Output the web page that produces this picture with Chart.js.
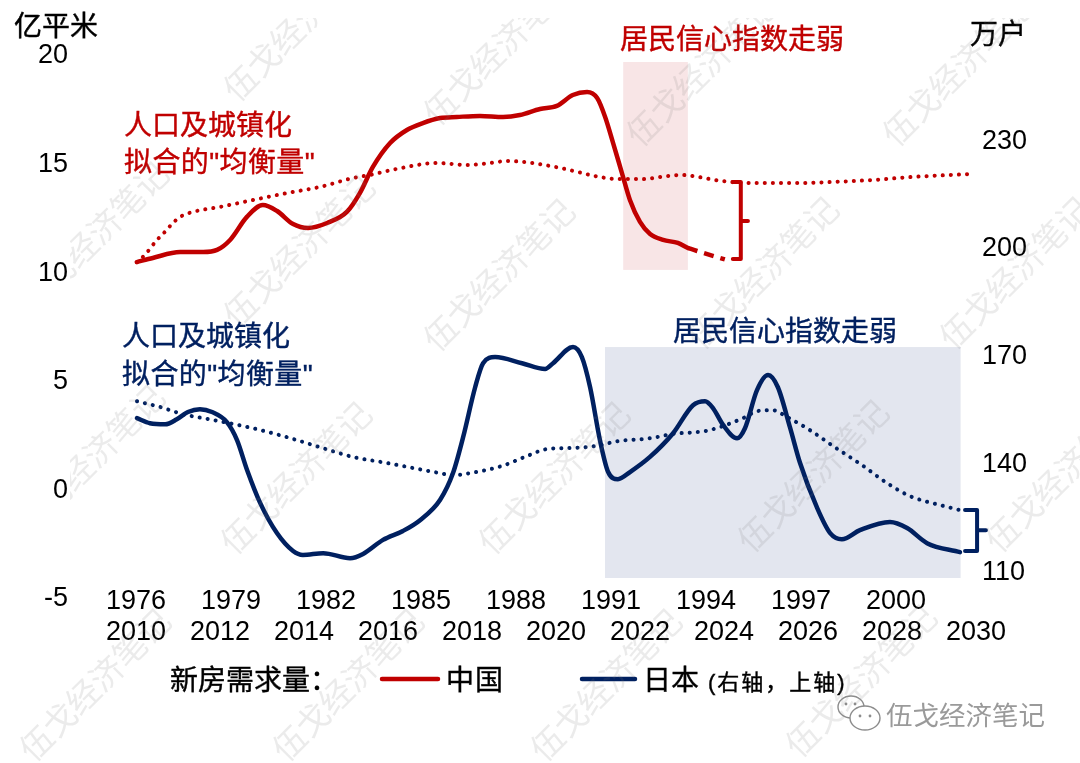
<!DOCTYPE html>
<html>
<head>
<meta charset="utf-8">
<title>新房需求量</title>
<script src="https://cdn.jsdelivr.net/npm/chart.js@4"></script>
<style>
  html, body { margin: 0; padding: 0; background: #fff; }
  canvas { display: block; }
</style>
</head>
<body>
<canvas id="demandChart" width="1080" height="763"></canvas>
<script>
// axis ticks
const chinaYearTicks = [2010, 2012, 2014, 2016, 2018, 2020, 2022, 2024, 2026, 2028, 2030];
const japanYearTicks = [1976, 1979, 1982, 1985, 1988, 1991, 1994, 1997, 2000];
const leftTicks = [-5, 0, 5, 10, 15, 20];
const rightTicks = [110, 140, 170, 200, 230];

// China, left axis, bottom years
const chinaYears = [2010.02, 2010.40, 2011.05, 2011.60, 2011.93, 2012.24, 2012.64, 2013.02, 2013.36, 2013.74, 2014.10, 2014.55, 2015.02, 2015.33, 2015.64, 2016.05, 2016.45, 2016.83, 2017.24, 2017.64, 2018.19, 2018.74, 2019.14, 2019.62, 2020.02, 2020.40, 2020.74, 2020.98, 2021.17, 2021.36, 2021.57, 2021.76, 2022.00, 2022.24, 2022.55, 2022.90, 2023.14];
const chinaDemand = [10.42, 10.61, 10.88, 10.88, 10.98, 11.44, 12.50, 13.05, 12.77, 12.17, 11.99, 12.22, 12.73, 13.60, 14.80, 15.90, 16.50, 16.82, 17.05, 17.10, 17.15, 17.10, 17.19, 17.47, 17.61, 18.11, 18.25, 17.97, 17.10, 15.90, 14.52, 13.28, 12.27, 11.71, 11.44, 11.30, 11.07];
const chinaForecastYears = [2023.14, 2023.36, 2024.02];
const chinaForecast = [11.07, 10.93, 10.54];
const chinaTrendYears = [2010.02, 2010.21, 2010.50, 2010.64, 2010.88, 2011.05, 2011.36, 2012.00, 2012.79, 2013.60, 2014.38, 2015.17, 2015.57, 2016.21, 2017.17, 2017.90, 2018.26, 2018.86, 2019.43, 2019.98, 2020.52, 2020.93, 2021.48, 2022.05, 2022.64, 2023.00, 2023.38, 2023.95, 2024.69, 2025.86, 2026.60, 2027.55, 2028.50, 2029.92];
const chinaTrend = [10.42, 10.75, 11.44, 11.71, 12.22, 12.50, 12.73, 12.96, 13.28, 13.60, 13.88, 14.29, 14.43, 14.71, 14.98, 14.89, 14.94, 15.07, 14.98, 14.80, 14.57, 14.38, 14.24, 14.24, 14.38, 14.43, 14.34, 14.15, 14.06, 14.06, 14.11, 14.20, 14.34, 14.48];

// Japan, right axis, upper row of years
const japanYears = [1976.03, 1976.44, 1976.92, 1977.29, 1977.64, 1978.02, 1978.40, 1978.87, 1979.19, 1979.51, 1979.92, 1980.45, 1980.96, 1981.27, 1981.91, 1982.76, 1983.17, 1983.80, 1984.43, 1984.97, 1985.60, 1986.01, 1986.33, 1986.71, 1986.96, 1987.34, 1988.19, 1988.92, 1989.17, 1989.80, 1990.08, 1990.34, 1990.65, 1990.91, 1991.22, 1991.60, 1992.23, 1992.96, 1993.59, 1993.97, 1994.22, 1994.54, 1994.98, 1995.23, 1995.61, 1995.96, 1996.27, 1996.65, 1996.97, 1997.50, 1997.92, 1998.29, 1998.86, 1999.81, 2000.35, 2000.98, 2002.02];
const japanDemand = [152.3, 150.9, 150.6, 152.0, 154.0, 154.8, 154.0, 151.2, 146.2, 137.8, 128.7, 120.3, 115.3, 114.2, 114.7, 113.3, 114.5, 118.4, 120.9, 123.9, 129.5, 137.0, 147.0, 160.9, 167.6, 169.3, 167.6, 166.0, 167.6, 172.1, 169.3, 160.9, 146.2, 137.3, 135.3, 137.3, 141.5, 148.1, 155.9, 157.0, 155.1, 150.4, 146.7, 149.5, 160.1, 164.3, 160.9, 149.8, 139.8, 127.5, 120.3, 118.6, 121.1, 123.4, 121.7, 117.5, 115.0];
const japanTrendYears = [1976.03, 1976.76, 1977.48, 1978.43, 1979.69, 1980.77, 1981.81, 1982.85, 1983.93, 1985.60, 1986.01, 1986.55, 1987.56, 1988.28, 1988.98, 1989.70, 1990.49, 1991.22, 1992.23, 1992.96, 1993.97, 1994.44, 1995.17, 1995.64, 1996.12, 1996.56, 1997.22, 1998.07, 1998.93, 1999.72, 2000.44, 2001.39, 2002.02];
const japanTrend = [157.0, 155.4, 153.4, 151.8, 149.5, 147.0, 144.2, 141.5, 139.8, 137.0, 136.4, 137.0, 139.0, 141.5, 143.7, 144.0, 144.5, 145.9, 146.7, 147.9, 148.7, 149.8, 152.3, 154.3, 154.5, 152.6, 149.3, 144.2, 139.2, 134.2, 130.6, 128.1, 126.7];

// gap brackets, in axis units
const chinaBracketYears = [2024.21, 2024.40, 2024.40, 2024.57, 2024.40, 2024.40, 2024.21];
const chinaBracketValues = [14.11, 14.11, 12.31, 12.31, 12.31, 10.56, 10.56];
const japanBracketYears = [2002.18, 2002.56, 2002.56, 2002.84, 2002.56, 2002.56, 2002.18];
const japanBracketValues = [126.7, 126.7, 121.1, 121.1, 121.1, 115.3, 115.3];

// weak confidence periods: [x from, x to, value low, value high]
const chinaBand = [2021.60, 2023.14, 10.06, 19.63];
const japanBand = [1990.81, 2002.04, 107.8, 172.1];

const RED = '#C00000';
const NAVY = '#002060';
const SANS = '"Liberation Sans", "Noto Sans CJK SC", sans-serif';

const pairs = (xs, ys) => xs.map((x, i) => ({ x: x, y: ys[i] }));

function lineSet(xs, ys, xAxis, yAxis, color, extra) {
  return Object.assign({
    data: pairs(xs, ys),
    xAxisID: xAxis,
    yAxisID: yAxis,
    borderColor: color,
    borderWidth: 4.5,
    pointRadius: 0,
    fill: false,
    clip: false,
    cubicInterpolationMode: 'monotone',
    borderCapStyle: 'round',
    borderJoinStyle: 'round'
  }, extra || {});
}

const dotted = { borderWidth: 4, borderDash: [0.1, 8] };
const straight = { cubicInterpolationMode: 'default', tension: 0, borderWidth: 4 };

const bandPlugin = {
  id: 'bands',
  beforeDatasetsDraw(chart) {
    const c = chart.ctx, s = chart.scales;
    const rect = (band, xs, ys, color) => {
      const x0 = xs.getPixelForValue(band[0]), x1 = xs.getPixelForValue(band[1]);
      const y0 = ys.getPixelForValue(band[3]), y1 = ys.getPixelForValue(band[2]);
      c.fillStyle = color;
      c.fillRect(x0, y0, x1 - x0, y1 - y0);
    };
    rect(chinaBand, s.x, s.y, '#F8E5E6');
    rect(japanBand, s.x2, s.y2, '#E3E6EF');
  }
};

// labels, legend and watermark
const notesPlugin = {
  id: 'notes',
  afterDraw(chart) {
    const c = chart.ctx;
    c.save();
    c.textBaseline = 'middle';
    c.textAlign = 'left';
    const text = (str, x, y, color, size, spacing) => {
      c.fillStyle = color;
      c.strokeStyle = color;
      c.lineWidth = 0.4;
      c.font = (size || 28) + 'px ' + SANS;
      c.letterSpacing = (spacing || 0) + 'px';
      c.fillText(str, x, y);
      c.strokeText(str, x, y);
      c.letterSpacing = '0px';
    };
    text('亿平米', 14, 28, '#000');
    text('万户', 970, 36, '#000');
    text('居民信心指数走弱', 620, 41, RED);
    text('人口及城镇化', 124, 127, RED);
    text('拟合的"均衡量"', 124, 164, RED, 28, 0.4);
    text('人口及城镇化', 122, 338, NAVY);
    text('拟合的"均衡量"', 122, 376, NAVY, 28, 0.4);
    text('居民信心指数走弱', 673, 333, NAVY);

    // legend
    text('新房需求量\uFF1A', 170, 682, '#000');
    text('中国', 446, 682, '#000', 28, 1);
    text('日本', 643, 682, '#000');
    text('(右轴\uFF0C上轴)', 708, 684, '#000', 22, 2);
    c.lineCap = 'round';
    c.lineWidth = 4.5;
    c.strokeStyle = RED;
    c.beginPath(); c.moveTo(382, 679); c.lineTo(438, 679); c.stroke();
    c.strokeStyle = NAVY;
    c.beginPath(); c.moveTo(582, 679); c.lineTo(635, 679); c.stroke();

    // watermark, cut off at the top edge like the source image
    const mark = (x, y) => {
      c.save();
      c.translate(x, y);
      c.rotate(-Math.PI / 4);
      c.fillText('伍戈经济笔记', 0, 0);
      c.restore();
    };
    c.fillStyle = 'rgba(120,120,120,0.15)';
    c.font = '33px ' + SANS;
    c.save();
    c.beginPath(); c.rect(0, 18, 1080, 745); c.clip();
    [[231, 97], [431, 121], [634, 142], [890, 142],
      [231, 323], [431, 347], [695, 345], [947, 345],
      [228, 550], [486, 550], [745, 548], [993, 548],
      [27, 757], [280, 757], [538, 757], [793, 753]].forEach(m => mark(m[0], m[1]));
    c.restore();
    c.save();
    c.beginPath(); c.rect(70, 18, 1010, 745); c.clip();
    mark(25, 310);
    mark(21, 533);
    c.restore();

    // account mark, bottom right
    c.strokeStyle = '#8c8c8c';
    c.lineWidth = 1.4;
    c.fillStyle = '#fff';
    c.beginPath(); c.ellipse(851, 707, 13, 11, 0, 0, Math.PI * 2); c.stroke();
    c.beginPath(); c.ellipse(865, 718, 15, 12, 0, 0, Math.PI * 2); c.fill(); c.stroke();
    c.fillStyle = '#8c8c8c';
    [[846, 704], [855, 704], [860, 716], [870, 716]].forEach(p => {
      c.beginPath(); c.arc(p[0], p[1], 1.4, 0, Math.PI * 2); c.fill();
    });
    c.fillStyle = '#9a9a9a';
    c.font = '26.5px ' + SANS;
    c.fillText('伍戈经济笔记', 886, 718);
    c.restore();
  }
};

function fixedTicks(list) {
  return scale => { scale.ticks = list.map(v => ({ value: v })); };
}

// the big tick padding would otherwise push the plot area down
function fitY(width) {
  return s => { s.width = width; s.paddingTop = 0; s.paddingBottom = 0; };
}

const tickFont = { family: SANS, size: 27 };
const noLines = { grid: { display: false, drawTicks: false }, border: { display: false } };

new Chart(document.getElementById('demandChart').getContext('2d'), {
  type: 'line',
  data: {
    datasets: [
      lineSet(chinaYears, chinaDemand, 'x', 'y', RED),
      lineSet(chinaForecastYears, chinaForecast, 'x', 'y', RED, { borderDash: [10, 7], borderCapStyle: 'butt' }),
      lineSet(chinaTrendYears, chinaTrend, 'x', 'y', RED, dotted),
      lineSet(chinaBracketYears, chinaBracketValues, 'x', 'y', RED, straight),
      lineSet(japanYears, japanDemand, 'x2', 'y2', NAVY),
      lineSet(japanTrendYears, japanTrend, 'x2', 'y2', NAVY, dotted),
      lineSet(japanBracketYears, japanBracketValues, 'x2', 'y2', NAVY, straight)
    ]
  },
  options: {
    responsive: false,
    animation: false,
    devicePixelRatio: 1,
    layout: { padding: { top: 54, bottom: 102 } },
    plugins: { legend: { display: false }, tooltip: { enabled: false } },
    scales: {
      // mirror keeps the tick labels from being clipped at the axis box
      x: Object.assign({
        type: 'linear', position: 'bottom', weight: 2, min: 2010, max: 2030,
        afterBuildTicks: fixedTicks(chinaYearTicks),
        afterFit: s => { s.height = 32; },
        ticks: { font: tickFont, color: '#000', mirror: true, padding: -20, maxRotation: 0, autoSkip: false, callback: v => String(v) }
      }, noLines),
      x2: Object.assign({
        type: 'linear', position: 'bottom', weight: 1, min: 1976, max: 2002.526,
        afterBuildTicks: fixedTicks(japanYearTicks),
        afterFit: s => { s.height = 32; },
        ticks: { font: tickFont, color: '#000', mirror: true, padding: -21, maxRotation: 0, autoSkip: false, callback: v => String(v) }
      }, noLines),
      y: Object.assign({
        type: 'linear', position: 'left', min: -5, max: 20,
        afterBuildTicks: fixedTicks(leftTicks),
        afterFit: fitY(136),
        ticks: { font: tickFont, color: '#000', padding: 68, labelOffset: 2, callback: v => String(v) }
      }, noLines),
      y2: Object.assign({
        type: 'linear', position: 'right', min: 102.5, max: 253.7,
        afterBuildTicks: fixedTicks(rightTicks),
        afterFit: fitY(104),
        ticks: { font: tickFont, color: '#000', padding: 6, labelOffset: 2, callback: v => String(v) }
      }, noLines)
    }
  },
  plugins: [bandPlugin, notesPlugin]
});
</script>
</body>
</html>
